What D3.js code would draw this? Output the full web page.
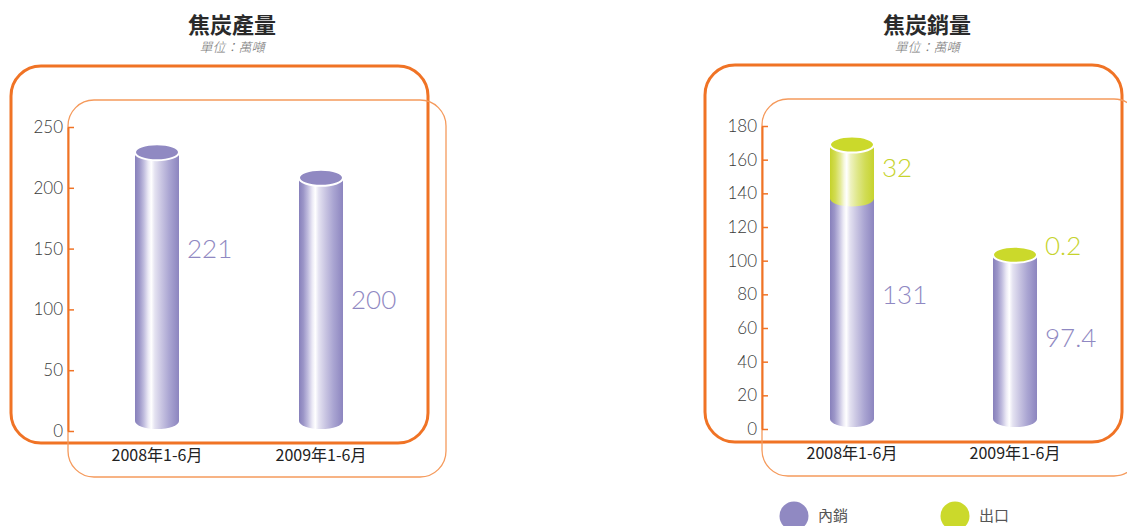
<!DOCTYPE html>
<html><head><meta charset="utf-8">
<script src="https://cdn.jsdelivr.net/npm/d3@7/dist/d3.min.js"></script>
<style>
body{margin:0;background:#fff;}
svg{display:block;}
.num{font-family:Lato,"Noto Sans",sans-serif;font-weight:300;}
.cjk{font-family:"Noto Sans CJK TC","Noto Sans CJK SC",sans-serif;}
</style></head>
<body>
<svg id="c" width="1127" height="526"></svg>
<script>
// ---- data ----
const categories = ["2008年1-6月", "2009年1-6月"];
const productionValues = [221, 200];
const productionTicks = [0, 50, 100, 150, 200, 250];
const domesticSales = [131, 97.4];
const exportSales = [32, 0.2];
const salesTicks = [0, 20, 40, 60, 80, 100, 120, 140, 160, 180];
const seriesNames = ["內銷", "出口"];
const titles = ["焦炭產量", "焦炭銷量"];
const unitLabel = "單位：萬噸";

// ---- layout / style (not data) ----
const ORANGE = "#f07325", ORANGE_L = "#f59a5c";
const PURPLE = "#9089c2", YELLOW = "#cbd92b";
const PURPLE_TXT = "#8f88c2", YELLOW_TXT = "#c6d32c";
const RX = 22, RY = 8, LIFT = 10;

const svg = d3.select("#c");
const defs = svg.append("defs");
function grad(id, stops) {
  const g = defs.append("linearGradient").attr("id", id).attr("x1", "0%").attr("x2", "100%");
  stops.forEach(([o, c]) => g.append("stop").attr("offset", o).attr("stop-color", c));
}
grad("gp", [["0%", "#8780bb"], ["10%", "#9c96c8"], ["20%", "#c0bcde"], ["30%", "#ebe9f5"], ["37%", "#ffffff"], ["45%", "#e4e2f1"], ["60%", "#c9c5e2"], ["78%", "#aaa5d2"], ["100%", "#8c85bf"]]);
grad("gy", [["0%", "#c5d22b"], ["12%", "#d2dc52"], ["24%", "#e4ea98"], ["32%", "#f6f8dc"], ["38%", "#ffffff"], ["47%", "#eef2bf"], ["62%", "#dfe78a"], ["80%", "#d1dc55"], ["100%", "#c6d32e"]]);

function chart(cfg) {
  const g = svg.append("g");
  // frames
  g.append("rect").attr("x", cfg.frame[0]).attr("y", cfg.frame[1]).attr("width", 417).attr("height", 377)
    .attr("rx", 30).attr("fill", "none").attr("stroke", ORANGE).attr("stroke-width", 3);
  g.append("rect").attr("x", cfg.axisX).attr("y", cfg.frame[1] + 34).attr("width", 378).attr("height", 377)
    .attr("rx", 26).attr("fill", "none").attr("stroke", ORANGE_L).attr("stroke-width", 1.3);

  // titles
  g.append("text").attr("class", "cjk").attr("x", cfg.titleX).attr("y", 25).attr("dy", "0.35em").attr("text-anchor", "middle")
    .attr("font-size", 22).attr("font-weight", 700).attr("fill", "#2a2a2a").text(cfg.title);
  g.append("text").attr("class", "cjk").attr("x", cfg.titleX).attr("y", 47).attr("dy", "0.35em").attr("text-anchor", "middle")
    .attr("font-size", 13).attr("font-weight", 300).attr("font-style", "italic").attr("fill", "#777").text(unitLabel);

  const y = d3.scaleLinear().domain([0, d3.max(cfg.ticks)]).range(cfg.yRange);
  const x = d3.scalePoint().domain(categories).range(cfg.xRange);

  const ax = g.append("g").attr("transform", `translate(${cfg.axisX},0)`)
    .call(d3.axisLeft(y).tickValues(cfg.ticks).tickSizeInner(-6).tickSizeOuter(0).tickPadding(5));
  ax.select(".domain").attr("stroke", ORANGE).attr("stroke-width", 2);
  ax.selectAll(".tick line").attr("stroke", ORANGE).attr("stroke-width", 1.5);
  ax.selectAll(".tick text").attr("class", "num").attr("font-size", 17).attr("fill", "#3a3a3a");

  // x labels
  g.selectAll(".xl").data(categories).enter().append("text").attr("class", "cjk")
    .attr("x", d => x(d)).attr("y", cfg.xLabelY).attr("text-anchor", "middle")
    .attr("font-size", 16).attr("fill", "#222").text(d => d);

  // cylinders
  categories.forEach((cat, i) => {
    const cx = x(cat);
    let base = 0;
    const segs = cfg.series.map(s => { const seg = { v0: base, v1: base + s.values[i], s }; base += s.values[i]; return seg; });
    segs.forEach(seg => {
      const yT = y(seg.v1) - LIFT, yB = y(seg.v0) - LIFT;
      g.append("path").attr("d", `M${cx - RX},${yT} L${cx - RX},${yB} A${RX},${RY} 0 0 0 ${cx + RX},${yB} L${cx + RX},${yT} Z`)
        .attr("fill", `url(#${seg.s.grad})`);
    });
    const top = segs[segs.length - 1];
    g.append("ellipse").attr("cx", cx).attr("cy", y(top.v1) - LIFT).attr("rx", RX).attr("ry", RY)
      .attr("fill", top.s.color).attr("stroke", "#fff").attr("stroke-width", 2);
    // value labels
    cfg.series.forEach(s => {
      g.append("text").attr("class", "num").attr("x", cx + 30).attr("y", y(s.labelAt[i]))
        .attr("dy", "0.36em").attr("font-size", 26).attr("fill", s.textColor).text(s.values[i]);
    });
  });
}

chart({
  title: titles[0], titleX: 232, frame: [11, 66], axisX: 68,
  ticks: productionTicks, yRange: [431, 127], xRange: [157, 321], xLabelY: 461,
  series: [{ values: productionValues, grad: "gp", color: PURPLE, textColor: PURPLE_TXT, labelAt: [150, 108] }]
});
chart({
  title: titles[1], titleX: 927, frame: [705, 65], axisX: 762,
  ticks: salesTicks, yRange: [429, 126], xRange: [852, 1015], xLabelY: 459,
  series: [
    { values: domesticSales, grad: "gp", color: PURPLE, textColor: PURPLE_TXT, labelAt: [80, 54] },
    { values: exportSales, grad: "gy", color: YELLOW, textColor: YELLOW_TXT, labelAt: [155, 109] }
  ]
});

// legend
const legendColors = [PURPLE, YELLOW];
const legendX = d3.scalePoint().domain(seriesNames).range([794, 955]);
const lg = svg.append("g");
seriesNames.forEach((n, i) => {
  lg.append("circle").attr("cx", legendX(n)).attr("cy", 516).attr("r", 14.5).attr("fill", legendColors[i]);
  lg.append("text").attr("class", "cjk").attr("x", legendX(n) + 24).attr("y", 516).attr("dy", "0.36em")
    .attr("font-size", 15).attr("fill", "#555").text(n);
});
</script>
</body></html>
